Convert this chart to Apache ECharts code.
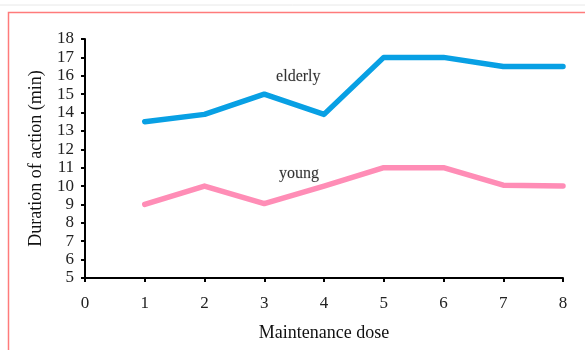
<!DOCTYPE html>
<html>
<head>
<meta charset="utf-8">
<script src="https://cdn.jsdelivr.net/npm/echarts@6/dist/echarts.min.js"></script>
<style>
  html, body { margin: 0; padding: 0; background: #fff; }
  #chart { width: 585px; height: 350px; }
</style>
</head>
<body>
<div id="chart"></div>
<script>
// Maintenance dose on the x axis, duration of action (min) on the y axis
const doses = [1, 2, 3, 4, 5, 6, 7, 8];
const elderly = [13.5, 13.9, 15.0, 13.9, 17.0, 17.0, 16.5, 16.5];
const young = [9.0, 10.0, 9.05, 10.0, 11.0, 11.0, 10.05, 10.0];
const yTicks = { min: 5, max: 18, step: 1 };
const xTicks = { min: 0, max: 8, step: 1 };
// in-plot series names and where they sit (data units)
const seriesNames = ['elderly', 'young'];
const nameAnchors = [[3.57, 15.95], [3.58, 10.68]];

const serif = '"Liberation Serif", "DejaVu Serif", serif';

const chart = echarts.init(document.getElementById('chart'), null, { renderer: 'canvas' });

function pairs(xs, ys) {
  return xs.map((x, i) => [x, ys[i]]);
}

chart.setOption({
  animation: false,
  backgroundColor: '#fff',
  grid: { left: 85, top: 39, right: 22, bottom: 72, containLabel: false },
  graphic: [
    { type: 'line', shape: { x1: 0, y1: 5, x2: 585, y2: 5 }, style: { stroke: '#e8e8e8', lineWidth: 1 } },
    { type: 'polyline', shape: { points: [[8.5, 350], [8.5, 12.5], [585, 12.5]] }, style: { stroke: '#ff7b7b', lineWidth: 1.5, fill: 'none' } }
  ],
  xAxis: {
    type: 'value',
    min: xTicks.min, max: xTicks.max, interval: xTicks.step,
    name: 'Maintenance dose',
    nameLocation: 'middle',
    nameGap: 46,
    nameTextStyle: { fontFamily: serif, fontSize: 18, color: '#111' },
    axisLine: { show: true, onZero: false, lineStyle: { color: '#000', width: 2 } },
    axisTick: { show: true, length: 4, lineStyle: { color: '#000', width: 2 } },
    axisLabel: { fontFamily: serif, fontSize: 17, color: '#222', margin: 17 },
    splitLine: { show: false }
  },
  yAxis: {
    type: 'value',
    min: yTicks.min, max: yTicks.max, interval: yTicks.step,
    name: 'Duration of action (min)',
    nameLocation: 'middle',
    nameGap: 40,
    nameTextStyle: { fontFamily: serif, fontSize: 18, color: '#111' },
    axisLine: { show: true, lineStyle: { color: '#000', width: 2 } },
    axisTick: { show: true, length: 4, lineStyle: { color: '#000', width: 2 } },
    axisLabel: { fontFamily: serif, fontSize: 17, color: '#222', margin: 11, lineHeight: 17 },
    splitLine: { show: false }
  },
  series: [
    {
      name: 'elderly',
      type: 'line',
      data: pairs(doses, elderly),
      symbol: 'none',
      lineStyle: { color: '#08a0e4', width: 5.5, cap: 'round', join: 'round' }
    },
    {
      name: 'young',
      type: 'line',
      data: pairs(doses, young),
      symbol: 'none',
      lineStyle: { color: '#ff8db6', width: 5.5, cap: 'round', join: 'round' }
    },
    {
      name: 'names',
      type: 'scatter',
      silent: true,
      symbolSize: 1,
      itemStyle: { color: 'rgba(0,0,0,0)' },
      data: nameAnchors.map((c, i) => ({ value: c, name: seriesNames[i] })),
      label: {
        show: true,
        position: 'inside',
        formatter: p => p.name,
        fontFamily: serif,
        fontSize: 16,
        color: '#000',
        textBorderColor: 'rgba(0,0,0,0.25)',
        textBorderWidth: 0.4
      }
    }
  ]
});
</script>
</body>
</html>
